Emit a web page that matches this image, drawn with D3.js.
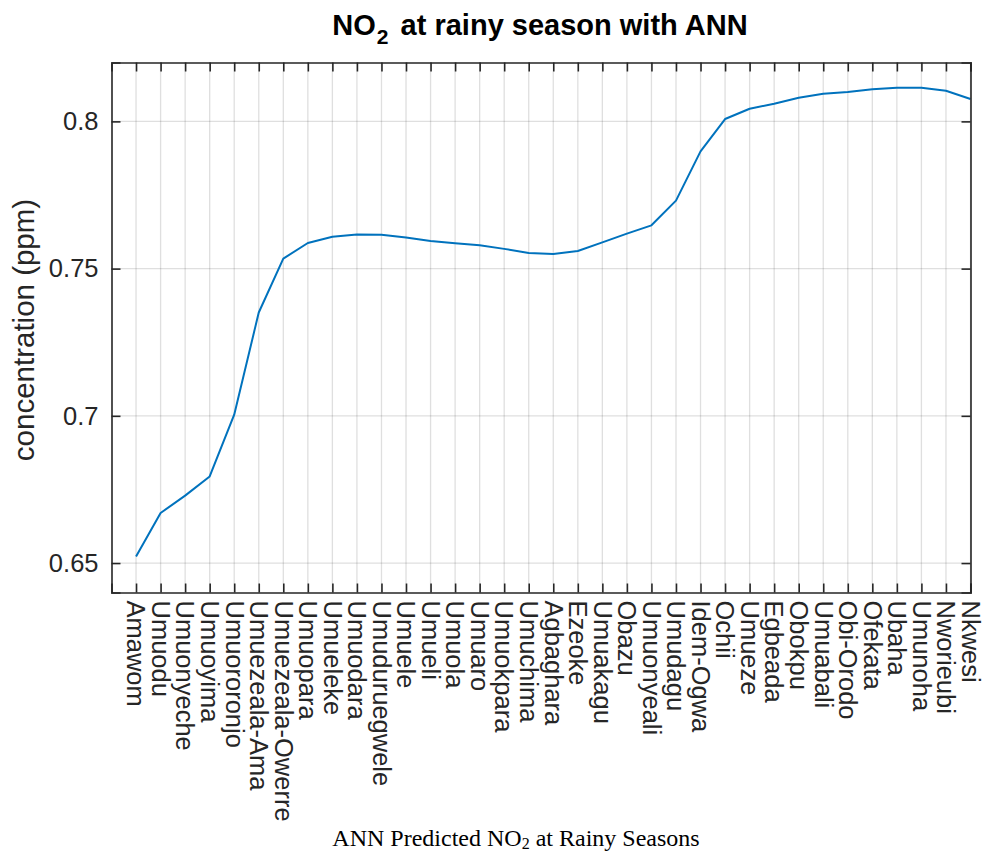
<!DOCTYPE html>
<html>
<head>
<meta charset="utf-8">
<script src="https://cdn.jsdelivr.net/npm/d3@7"></script>
<style>
  html, body { margin: 0; padding: 0; background: #fff; }
  svg { display: block; }
</style>
</head>
<body>
<svg id="chart" width="982" height="854"></svg>
<script>
const categories = ["Amawom","Umuodu","Umuonyeche","Umuoyima","Umuororonjo","Umuezeala-Ama","Umuezeala-Owerre","Umuopara","Umueleke","Umuodara","Umuduruegwele","Umuele","Umueli","Umuola","Umuaro","Umuokpara","Umuchima","Agbaghara","Ezeoke","Umuakagu","Obazu","Umuonyeali","Umudagu","Idem-Ogwa","Ochii","Umueze","Egbeada","Obokpu","Umuabali","Obi-Orodo","Ofekata","Ubaha","Umunoha","Nworieubi","Nkwesi"];
const no2Values = [0.6522,0.6670,0.6729,0.6794,0.7004,0.7351,0.7534,0.7587,0.7608,0.7616,0.7615,0.7606,0.7594,0.7586,0.7579,0.7567,0.7553,0.7550,0.7560,0.7589,0.7619,0.7647,0.7731,0.7898,0.8008,0.8043,0.8060,0.8080,0.8094,0.8100,0.8109,0.8114,0.8114,0.8104,0.8076];
const yTicks = [0.65, 0.70, 0.75, 0.80];
const yTickLabels = ["0.65", "0.7", "0.75", "0.8"];

const svg = d3.select("#chart");
const L = 111.5, R = 970.5, T = 62.5, B = 592.5;
const ink = "#262626";

const x = d3.scaleLinear().domain([0, categories.length]).range([L, R]);
const y = d3.scaleLinear().domain([0.64, 0.82]).range([B, T]);

// grid
const grid = svg.append("g").attr("stroke", ink).attr("stroke-opacity", 0.15).attr("stroke-width", 1.3);
grid.selectAll("line.v").data(categories).join("line")
  .attr("x1", (d, i) => x(i + 1)).attr("x2", (d, i) => x(i + 1))
  .attr("y1", T).attr("y2", B);
grid.selectAll("line.h").data(yTicks).join("line")
  .attr("x1", L).attr("x2", R)
  .attr("y1", d => y(d)).attr("y2", d => y(d));

// line
const line = d3.line().x((d, i) => x(i + 1)).y(d => y(d));
svg.append("path").datum(no2Values)
  .attr("fill", "none").attr("stroke", "#0072BD").attr("stroke-width", 2)
  .attr("stroke-linejoin", "round").attr("d", line);

// axes
const tickLen = 9;
const fmtY = (d) => yTickLabels[yTicks.indexOf(d)];
const xIdx = categories.map((c, i) => i + 1);

const xBottom = d3.axisBottom(x).tickValues(xIdx).tickSize(-tickLen).tickFormat((d) => categories[d - 1]);
const gxb = svg.append("g").attr("transform", `translate(0,${B})`).call(xBottom);
gxb.selectAll("text")
  .attr("transform", "rotate(90)")
  .attr("text-anchor", "start")
  .attr("x", 8).attr("y", 0).attr("dy", "0.36em");

const xTop = d3.axisTop(x).tickValues(xIdx).tickSize(-tickLen).tickFormat("");
svg.append("g").attr("transform", `translate(0,${T})`).call(xTop);

const yLeft = d3.axisLeft(y).tickValues(yTicks).tickSize(-tickLen).tickFormat(fmtY);
const gyl = svg.append("g").attr("transform", `translate(${L},0)`).call(yLeft);
gyl.selectAll("text").attr("x", -13);

const yRight = d3.axisRight(y).tickValues(yTicks).tickSize(-tickLen).tickFormat("");
svg.append("g").attr("transform", `translate(${R},0)`).call(yRight);

svg.selectAll(".domain").attr("stroke", ink).attr("stroke-width", 1.6);
svg.selectAll(".tick line").attr("stroke", ink).attr("stroke-width", 1.6);
svg.selectAll(".tick text")
  .attr("fill", ink)
  .style("font-family", "'Liberation Sans', Arial, sans-serif")
  .style("font-size", "25.5px");

// title
const title = svg.append("text")
  .attr("x", (L + R) / 2 - 1).attr("y", 35)
  .attr("text-anchor", "middle")
  .attr("fill", "#000")
  .style("font-family", "'Liberation Sans', Arial, sans-serif")
  .style("font-weight", "bold")
  .style("font-size", "29px");
title.append("tspan").text("NO");
title.append("tspan").text("2").attr("dx", 1).attr("dy", 9).style("font-size", "21px");
title.append("tspan").text(" at rainy season with ANN").attr("dx", 4).attr("dy", -9);

// y label
svg.append("text")
  .attr("transform", `translate(34,${330}) rotate(-90)`)
  .attr("text-anchor", "middle")
  .attr("fill", ink)
  .style("font-family", "'Liberation Sans', Arial, sans-serif")
  .style("font-size", "29.5px")
  .text("concentration (ppm)");

// caption
const cap = svg.append("text")
  .attr("x", 516).attr("y", 846)
  .attr("text-anchor", "middle")
  .attr("fill", "#000")
  .style("font-family", "'Liberation Serif', 'Times New Roman', serif")
  .style("font-size", "24px");
cap.append("tspan").text("ANN Predicted NO");
cap.append("tspan").text("2").attr("dy", 3).style("font-size", "16px");
cap.append("tspan").text(" at Rainy Seasons").attr("dy", -3);
</script>
</body>
</html>
